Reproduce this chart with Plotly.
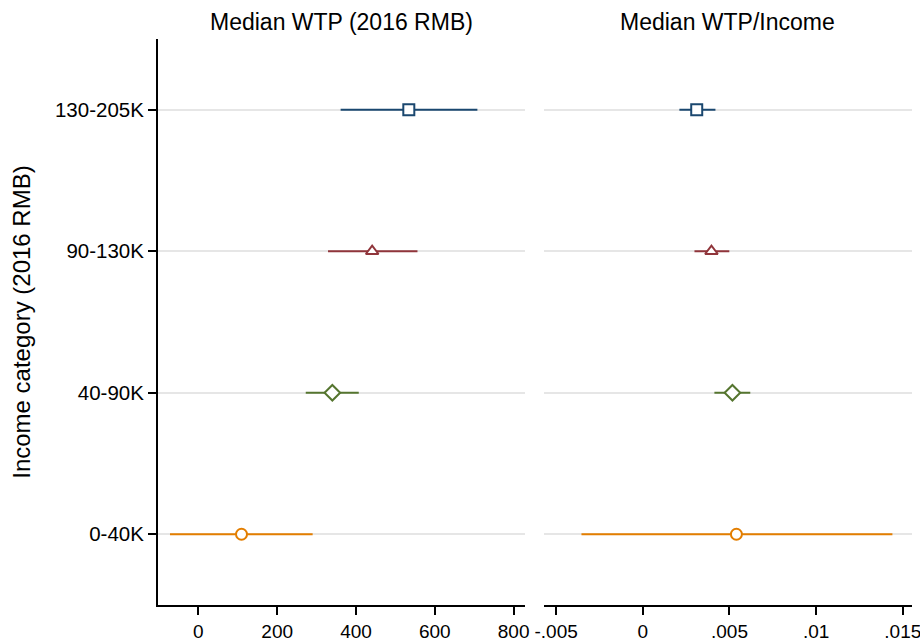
import plotly.graph_objects as go

categories = ["0-40K", "40-90K", "90-130K", "130-205K"]
wtp = [109.5, 340, 441, 534]
wtp_lo = [-72, 272.5, 329, 361]
wtp_hi = [290, 407, 556, 708]
ratio = [0.00540, 0.00517, 0.00396, 0.00311]
ratio_lo = [-0.00354, 0.00413, 0.00298, 0.00211]
ratio_hi = [0.01440, 0.00620, 0.00499, 0.00419]

colors = ["#e37e00", "#55752f", "#90353b", "#1a476f"]
symbols = ["circle", "diamond", "triangle-up", "square"]
sizes = [11, 12, 11, 11]
font = "Liberation Sans, Arial, sans-serif"

fig = go.Figure()
for i, c in enumerate(categories):
    for xa, ya, v, lo, hi in [("x", "y", wtp, wtp_lo, wtp_hi), ("x2", "y2", ratio, ratio_lo, ratio_hi)]:
        fig.add_trace(go.Scatter(
            x=[lo[i], hi[i]], y=[c, c], mode="lines",
            line=dict(color=colors[i], width=2), xaxis=xa, yaxis=ya,
            showlegend=False, hoverinfo="skip"))
        fig.add_trace(go.Scatter(
            x=[v[i]], y=[c], mode="markers",
            marker=dict(symbol=symbols[i], size=sizes[i], color="white",
                        line=dict(color=colors[i], width=2)),
            xaxis=xa, yaxis=ya, showlegend=False))

common_x = dict(showgrid=False, zeroline=False, showline=True, linecolor="black", linewidth=2,
                ticks="outside", ticklen=8, tickwidth=2, tickcolor="black", automargin=False,
                ticklabeloverflow="allow",
                tickfont=dict(family=font, size=19, color="black"))
fig.update_layout(
    width=920, height=639,
    margin=dict(l=158, r=8, t=39, b=34),
    plot_bgcolor="white", paper_bgcolor="white",
    xaxis=dict(domain=[0, 0.4872], range=[-102.4, 829.7], tickvals=[0, 200, 400, 600, 800],
               ticktext=["0", "200", "400", "600", "800"], anchor="y", **common_x),
    xaxis2=dict(domain=[0.5115, 1], range=[-0.00572, 0.01553],
                tickvals=[-0.005, 0, 0.005, 0.01, 0.015],
                ticktext=["-.005", "0", ".005", ".01", ".015"], anchor="y2", **common_x),
    yaxis=dict(categoryorder="array", categoryarray=categories, range=[-0.5, 3.5],
               showgrid=True, gridcolor="#e6e6e6", gridwidth=1.5, zeroline=False,
               showline=True, linecolor="black", linewidth=2, ticks="outside", ticklen=8,
               tickwidth=2, tickcolor="black", automargin=False,
               tickfont=dict(family=font, size=20.5, color="black"), anchor="x"),
    yaxis2=dict(categoryorder="array", categoryarray=categories, range=[-0.5, 3.5],
                showgrid=True, gridcolor="#e6e6e6", gridwidth=1.5, zeroline=False,
                showline=False, showticklabels=False, ticks="", anchor="x2", automargin=False),
    annotations=[
        dict(text="Median WTP (2016 RMB)", xref="paper", yref="paper", x=0.2436, y=1.0306,
             xanchor="center", yanchor="middle", showarrow=False,
             font=dict(family=font, size=23, color="black")),
        dict(text="Median WTP/Income", xref="paper", yref="paper", x=0.7557, y=1.0306,
             xanchor="center", yanchor="middle", showarrow=False,
             font=dict(family=font, size=23, color="black")),
        dict(text="Income category (2016 RMB)", xref="paper", yref="paper", x=-0.182, y=0.5,
             xanchor="center", yanchor="middle", textangle=-90, showarrow=False,
             font=dict(family=font, size=24, color="black")),
    ],
)
fig.write_html(
    "out.html",
    config={"displayModeBar": False},
    post_script="document.body.style.margin='0';document.body.style.overflow='hidden';",
)
